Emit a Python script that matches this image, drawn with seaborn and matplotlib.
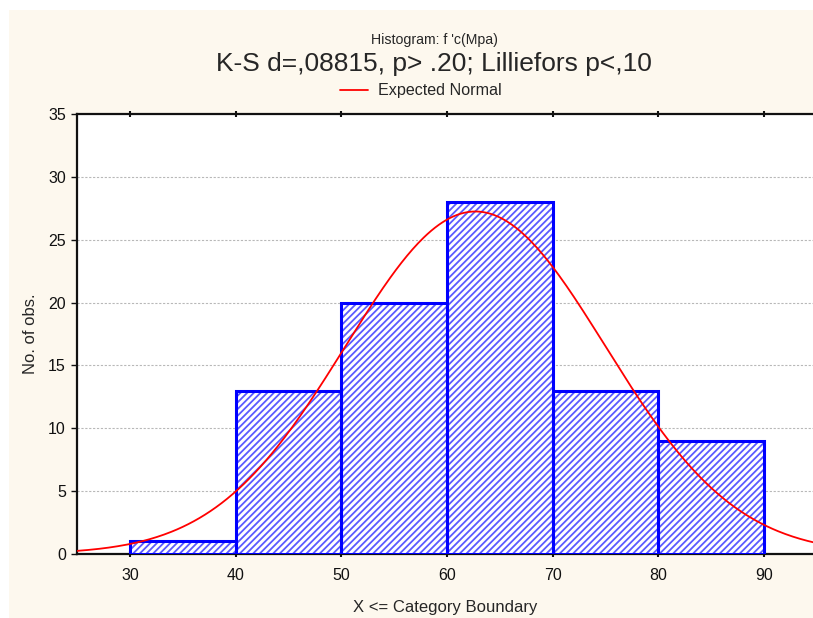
import numpy as np
import pandas as pd
import seaborn as sns
import matplotlib.pyplot as plt
from matplotlib.patches import Rectangle

bin_edges = [30, 40, 50, 60, 70, 80, 90]
counts = [1, 13, 20, 28, 13, 9]
# Parámetros de la normal esperada
mean_fc = 62.7
sd_fc = 12.3
n_obs = sum(counts)
bin_width = 10

x_ticks = [30, 40, 50, 60, 70, 80, 90]
y_ticks = [0, 5, 10, 15, 20, 25, 30, 35]

df = pd.DataFrame({
    "centro": [(a + b) / 2 for a, b in zip(bin_edges[:-1], bin_edges[1:])],
    "n": counts,
})

sns.set_style("white")
plt.rcParams["font.family"] = ["Liberation Sans", "DejaVu Sans"]
plt.rcParams["hatch.linewidth"] = 1.3

fig = plt.figure(figsize=(8.13, 6.18), dpi=100, facecolor="white")
fig.patches.append(Rectangle((9 / 813, 0), 1, 1 - 10 / 618, transform=fig.transFigure,
                             facecolor="#fdf8ee", edgecolor="none", zorder=-10))

ax = fig.add_axes([77 / 813, 64 / 618, 736 / 813, 440 / 618])
ax.set_facecolor("white")

# relleno rayado (azul claro) y luego el contorno azul
sns.histplot(data=df, x="centro", weights="n", bins=bin_edges, ax=ax,
             color="white", edgecolor="#5a5aff", linewidth=0, alpha=1, zorder=3)
for p in ax.patches:
    p.set_hatch("/////")
    p.set_facecolor("white")
    p.set_edgecolor("#5a5aff")
    p.set_linewidth(0)
sns.histplot(data=df, x="centro", weights="n", bins=bin_edges, ax=ax, fill=False,
             color="#0000ff", linewidth=2.2, zorder=3.5)

# Curva normal esperada
xs = np.linspace(25, 95, 400)
ys = n_obs * bin_width * np.exp(-0.5 * ((xs - mean_fc) / sd_fc) ** 2) / (sd_fc * np.sqrt(2 * np.pi))
line, = ax.plot(xs, ys, color="#ff0000", linewidth=1.3, zorder=4, label="Expected Normal")

ax.set_xlim(25, 94.64)
ax.set_ylim(0, 35)
ax.set_xticks(x_ticks)
ax.set_yticks(y_ticks)
ax.tick_params(axis="both", labelsize=11.5, colors="#111111")
ax.tick_params(axis="y", direction="out", length=4, width=1, left=True, pad=4)
ax.tick_params(axis="x", direction="inout", length=4, width=1.5, bottom=True, top=True, pad=8)

for yv in y_ticks[1:-1]:
    ax.axhline(yv, color="#b8b8b8", linestyle=(0, (2, 1.5)), linewidth=0.8, zorder=1)

for s in ["left", "top", "bottom"]:
    ax.spines[s].set_color("#111111")
    ax.spines[s].set_linewidth(1.6)
ax.spines["right"].set_visible(False)

ax.set_xlabel("X <= Category Boundary", fontsize=12, labelpad=12)
ax.set_ylabel("No. of obs.", fontsize=12, labelpad=7)

fig.text(434 / 813, 1 - 40 / 618, "Histogram: f 'c(Mpa)", ha="center", va="center", fontsize=10.2)
fig.text(434 / 813, 1 - 64 / 618, "K-S d=,08815, p> .20; Lilliefors p<,10", ha="center",
         va="center", fontsize=19)
fig.legend(handles=[line], loc="center", bbox_to_anchor=(421 / 813, 1 - 91 / 618),
           frameon=False, fontsize=11.6, handlelength=1.75, handletextpad=0.6)

fig.savefig("out.png", dpi=100, facecolor="white")
